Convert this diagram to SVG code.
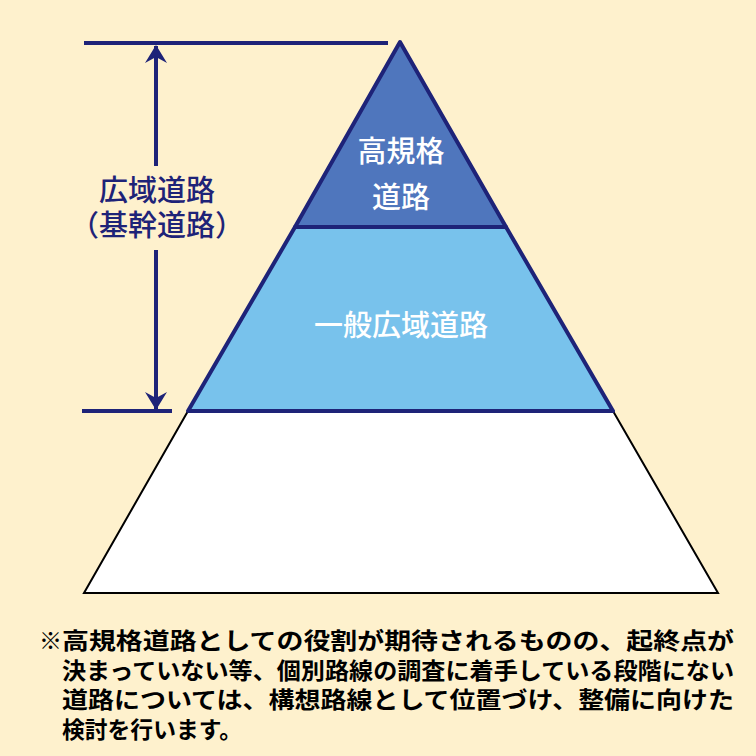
<svg xmlns="http://www.w3.org/2000/svg" width="756" height="756" viewBox="0 0 756 756">
<defs>
<style>
.navy{stroke:#1e2378;stroke-width:4;fill:none}
.lbl{font-family:"Noto Sans CJK JP",sans-serif;font-size:29px;font-weight:500;text-anchor:middle}
.note{font-family:"Noto Sans CJK JP",sans-serif;font-size:23px;font-weight:bold;fill:#000}
</style>
<marker id="ah" viewBox="0 0 18 22" refX="17" refY="11" markerWidth="18" markerHeight="22" markerUnits="userSpaceOnUse" orient="auto">
<path d="M0,0 L18,11 L0,22 L6,11 Z" fill="#1e2378"/>
</marker>
</defs>
<rect width="756" height="756" fill="#fef1cd"/>
<g id="base">
<polygon points="188,411 613,411 718,593 84,593" fill="#ffffff" stroke="#000" stroke-width="2"/>
</g>
<g id="middle">
<polygon points="295,227 506,227 613,411 188,411" fill="#78c2ec" stroke="#1e2378" stroke-width="4" stroke-linejoin="round"/>
<text class="lbl" x="401" y="336" fill="#ffffff">一般広域道路</text>
</g>
<g id="top">
<polygon points="400,42 506,227 295,227" fill="#4f76bd" stroke="#1e2378" stroke-width="4" stroke-linejoin="round"/>
<text class="lbl" x="401" y="162" fill="#ffffff">高規格</text>
<text class="lbl" x="401" y="208" fill="#ffffff">道路</text>
</g>
<g id="connectors">
<line class="navy" x1="84" y1="43" x2="388" y2="43"/>
<line class="navy" x1="82" y1="411" x2="172" y2="411"/>
<line class="navy" x1="156" y1="166" x2="156" y2="46" marker-end="url(#ah)"/>
<line class="navy" x1="156" y1="250" x2="156" y2="409" marker-end="url(#ah)"/>
</g>
<g id="label">
<text class="lbl" x="157" y="201" fill="#1e2378">広域道路</text>
<text class="lbl" x="157" y="236" fill="#1e2378">（基幹道路）</text>
</g>
<g id="note">
<text class="note" x="39" y="649">※</text>
<text class="note" x="62" y="649" textLength="672" lengthAdjust="spacingAndGlyphs">高規格道路としての役割が期待されるものの、起終点が</text>
<text class="note" x="62" y="679" textLength="672" lengthAdjust="spacingAndGlyphs">決まっていない等、個別路線の調査に着手している段階にない</text>
<text class="note" x="62" y="708" textLength="672" lengthAdjust="spacingAndGlyphs">道路については、構想路線として位置づけ、整備に向けた</text>
<text class="note" x="62" y="738" textLength="180" lengthAdjust="spacingAndGlyphs">検討を行います。</text>
</g>
</svg>
